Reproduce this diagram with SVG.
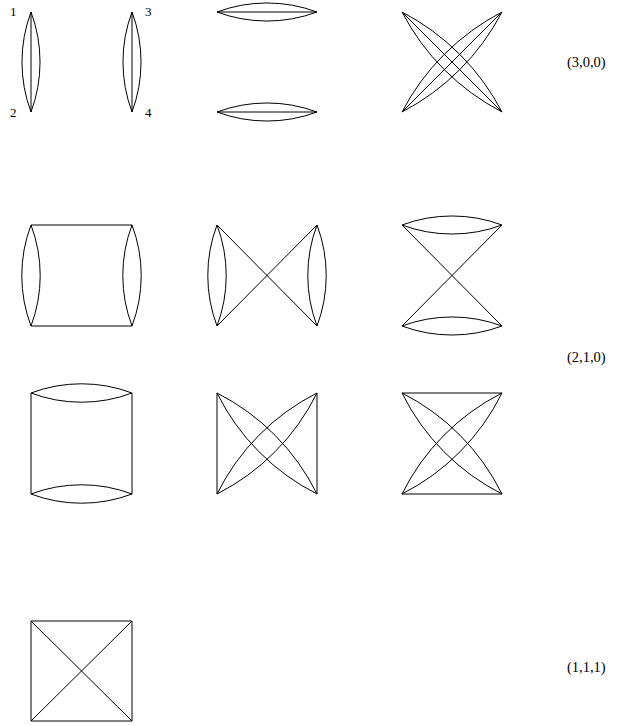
<svg xmlns="http://www.w3.org/2000/svg" width="624" height="726" viewBox="0 0 624 726">
<style>
.e{fill:none;stroke:#000;stroke-width:1}
text{font-family:"Liberation Serif","Times New Roman",serif;fill:#000}
.lbl{font-size:14.5px}
.v{font-size:13px}
</style>
<rect width="624" height="726" fill="#fff"/>
<g id="connectors">
<g id="g300a">
<path class="e" d="M31,12 L31,112 M31,12 A143 143 0 0 1 31,112 M31,12 A143 143 0 0 0 31,112"/>
<path class="e" d="M132,12 L132,112 M132,12 A143 143 0 0 1 132,112 M132,12 A143 143 0 0 0 132,112"/>
</g>
<g id="g300b">
<path class="e" d="M217,12 L317,12 M217,12 A143 143 0 0 1 317,12 M217,12 A143 143 0 0 0 317,12"/>
<path class="e" d="M217,112 L317,112 M217,112 A143 143 0 0 1 317,112 M217,112 A143 143 0 0 0 317,112"/>
</g>
<g id="g300c">
<path class="e" d="M402,12 L502,112 M402,12 A235 235 0 0 1 502,112 M402,12 A235 235 0 0 0 502,112"/>
<path class="e" d="M402,112 L502,12 M402,112 A235 235 0 0 1 502,12 M402,112 A235 235 0 0 0 502,12"/>
</g>
<g id="g210a">
<path class="e" d="M31,225 A143 143 0 0 1 31,326 M31,225 A143 143 0 0 0 31,326"/>
<path class="e" d="M132,225 A143 143 0 0 1 132,326 M132,225 A143 143 0 0 0 132,326"/>
<path class="e" d="M31,225 L132,225 M31,326 L132,326"/>
</g>
<g id="g210b">
<path class="e" d="M217,225 A143 143 0 0 1 217,326 M217,225 A143 143 0 0 0 217,326"/>
<path class="e" d="M317,225 A143 143 0 0 1 317,326 M317,225 A143 143 0 0 0 317,326"/>
<path class="e" d="M217,225 L317,326 M217,326 L317,225"/>
</g>
<g id="g210c">
<path class="e" d="M402,225 A143 143 0 0 1 502,225 M402,225 A143 143 0 0 0 502,225"/>
<path class="e" d="M402,326 A143 143 0 0 1 502,326 M402,326 A143 143 0 0 0 502,326"/>
<path class="e" d="M402,225 L502,326 M402,326 L502,225"/>
</g>
<g id="g210d">
<path class="e" d="M31,393 A143 143 0 0 1 132,393 M31,393 A143 143 0 0 0 132,393"/>
<path class="e" d="M31,494 A143 143 0 0 1 132,494 M31,494 A143 143 0 0 0 132,494"/>
<path class="e" d="M31,393 L31,494 M132,393 L132,494"/>
</g>
<g id="g210e">
<path class="e" d="M217,393 L217,494 M317,393 L317,494"/>
<path class="e" d="M217,393 A225 225 0 0 1 317,494 M217,393 A225 225 0 0 0 317,494"/>
<path class="e" d="M217,494 A225 225 0 0 1 317,393 M217,494 A225 225 0 0 0 317,393"/>
</g>
<g id="g210f">
<path class="e" d="M402,393 L502,393 M402,494 L502,494"/>
<path class="e" d="M402,393 A225 225 0 0 1 502,494 M402,393 A225 225 0 0 0 502,494"/>
<path class="e" d="M402,494 A225 225 0 0 1 502,393 M402,494 A225 225 0 0 0 502,393"/>
</g>
<g id="g111">
<path class="e" d="M31,621 L132,621 L132,721 L31,721 Z M31,621 L132,721 M31,721 L132,621"/>
</g>
</g>
<g id="vertex-labels">
<text class="v" x="10" y="16">1</text>
<text class="v" x="10" y="117">2</text>
<text class="v" x="145" y="16">3</text>
<text class="v" x="145" y="117">4</text>
</g>
<g id="class-labels">
<text class="lbl" x="567" y="67">(3,0,0)</text>
<text class="lbl" x="567" y="362">(2,1,0)</text>
<text class="lbl" x="567" y="672">(1,1,1)</text>
</g>
</svg>
